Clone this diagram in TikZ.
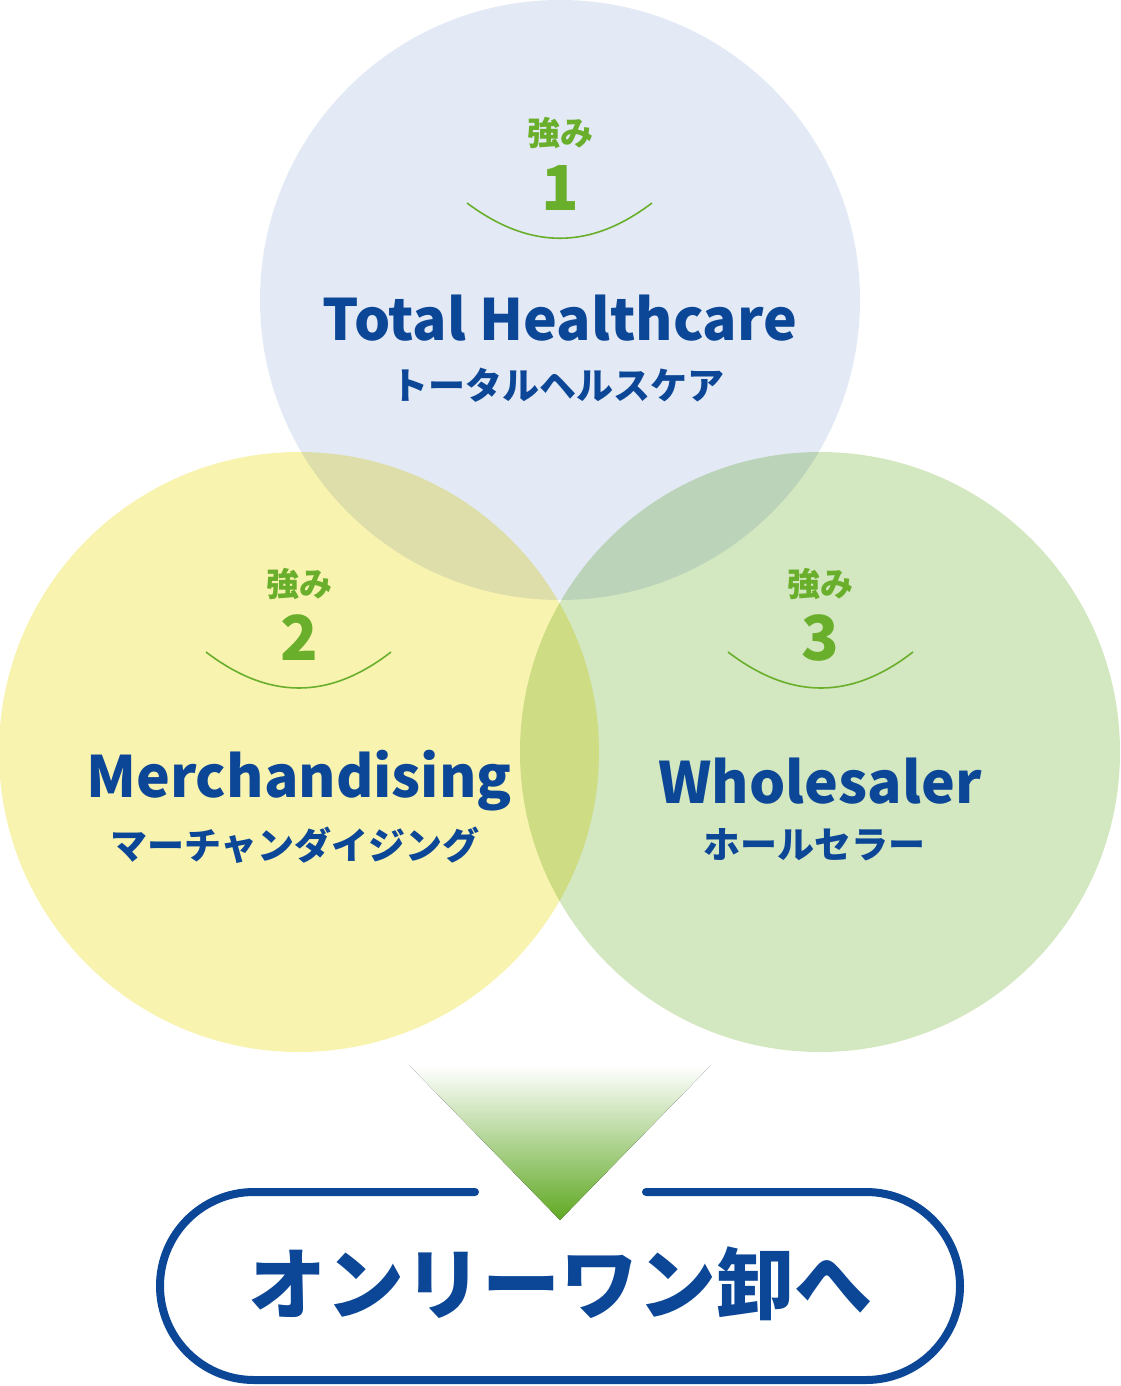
\documentclass[tikz,border=0pt]{standalone}
\usepackage{fontspec}
\usepackage{tikz}
\usetikzlibrary{positioning, calc}
\newfontfamily\jp{Noto Sans CJK JP}
\definecolor{navy}{HTML}{0B4697}
\definecolor{leaf}{HTML}{6AAF2C}
\definecolor{skyfill}{HTML}{E3EAF5}
\definecolor{lemonfill}{HTML}{F9F3B0}
\definecolor{mintfill}{HTML}{D3E7C0}
\definecolor{arrowgreen}{HTML}{5FA823}

\begin{document}
\begin{tikzpicture}[x=1pt,y=-1pt,
    disc/.style={circle,minimum size=600pt,inner sep=0pt,blend mode=multiply},
    tag/.style={text=leaf,font=\jp\bfseries\fontsize{33}{33}\selectfont},
    num/.style={text=leaf,font=\jp\bfseries\fontsize{62}{62}\selectfont},
    title/.style={text=navy,font=\jp\bfseries\fontsize{57}{57}\selectfont},
    kana/.style={text=navy,font=\jp\bfseries\fontsize{37}{37}\selectfont},
    smile/.style={leaf,line width=1.6pt}]
        \useasboundingbox (0,0) rectangle (1120,1386);

        \node[disc,fill=skyfill] (str1) at (560,300) {};
        \node[disc,fill=lemonfill] (str2) at (299,752) {};
        \node[disc,fill=mintfill] (str3) at (820,752) {};

        % strength 1
        \node[tag] (tag1) at (560,133) {強み};
        \node[num] (num1) at (560,188) {1};
        \draw[smile] (467,203) .. controls (530,250) and (590,250) .. (652,203);
        \node[title] (name1) at (560,318) {Total Healthcare};
        \node[kana] (kana1) at (558,385) {トータルヘルスケア};

        % strength 2
        \node[tag] (tag2) at (299,584) {強み};
        \node[num] (num2) at (299,638) {2};
        \draw[smile] (206,652) .. controls (269,700) and (329,700) .. (391,652);
        \node[title] (name2) at (299,781) {Merchandising};
        \node[kana] (kana2) at (295,845) {マーチャンダイジング};

        % strength 3
        \node[tag] (tag3) at (820,584) {強み};
        \node[num] (num3) at (820,638) {3};
        \draw[smile] (728,652) .. controls (791,700) and (851,700) .. (913,652);
        \node[title] (name3) at (820,781) {Wholesaler};
        \node[kana] (kana3) at (814,845) {ホールセラー};

        % arrow and goal
        \fill[top color=white,bottom color=arrowgreen] (410,1066) -- (710,1066) -- (560,1220) -- cycle;
        \node[text=navy,font=\jp\bfseries\fontsize{78}{78}\selectfont] (goal) at (560,1284) {オンリーワン卸へ};
        \draw[navy,line width=8pt,line cap=round]
        (475,1192) -- (254,1192) arc[start angle=-90,end angle=-270,radius=94]
        -- (866,1380) arc[start angle=90,end angle=-90,radius=94] -- (646,1192);
    \end{tikzpicture}
\end{document}
